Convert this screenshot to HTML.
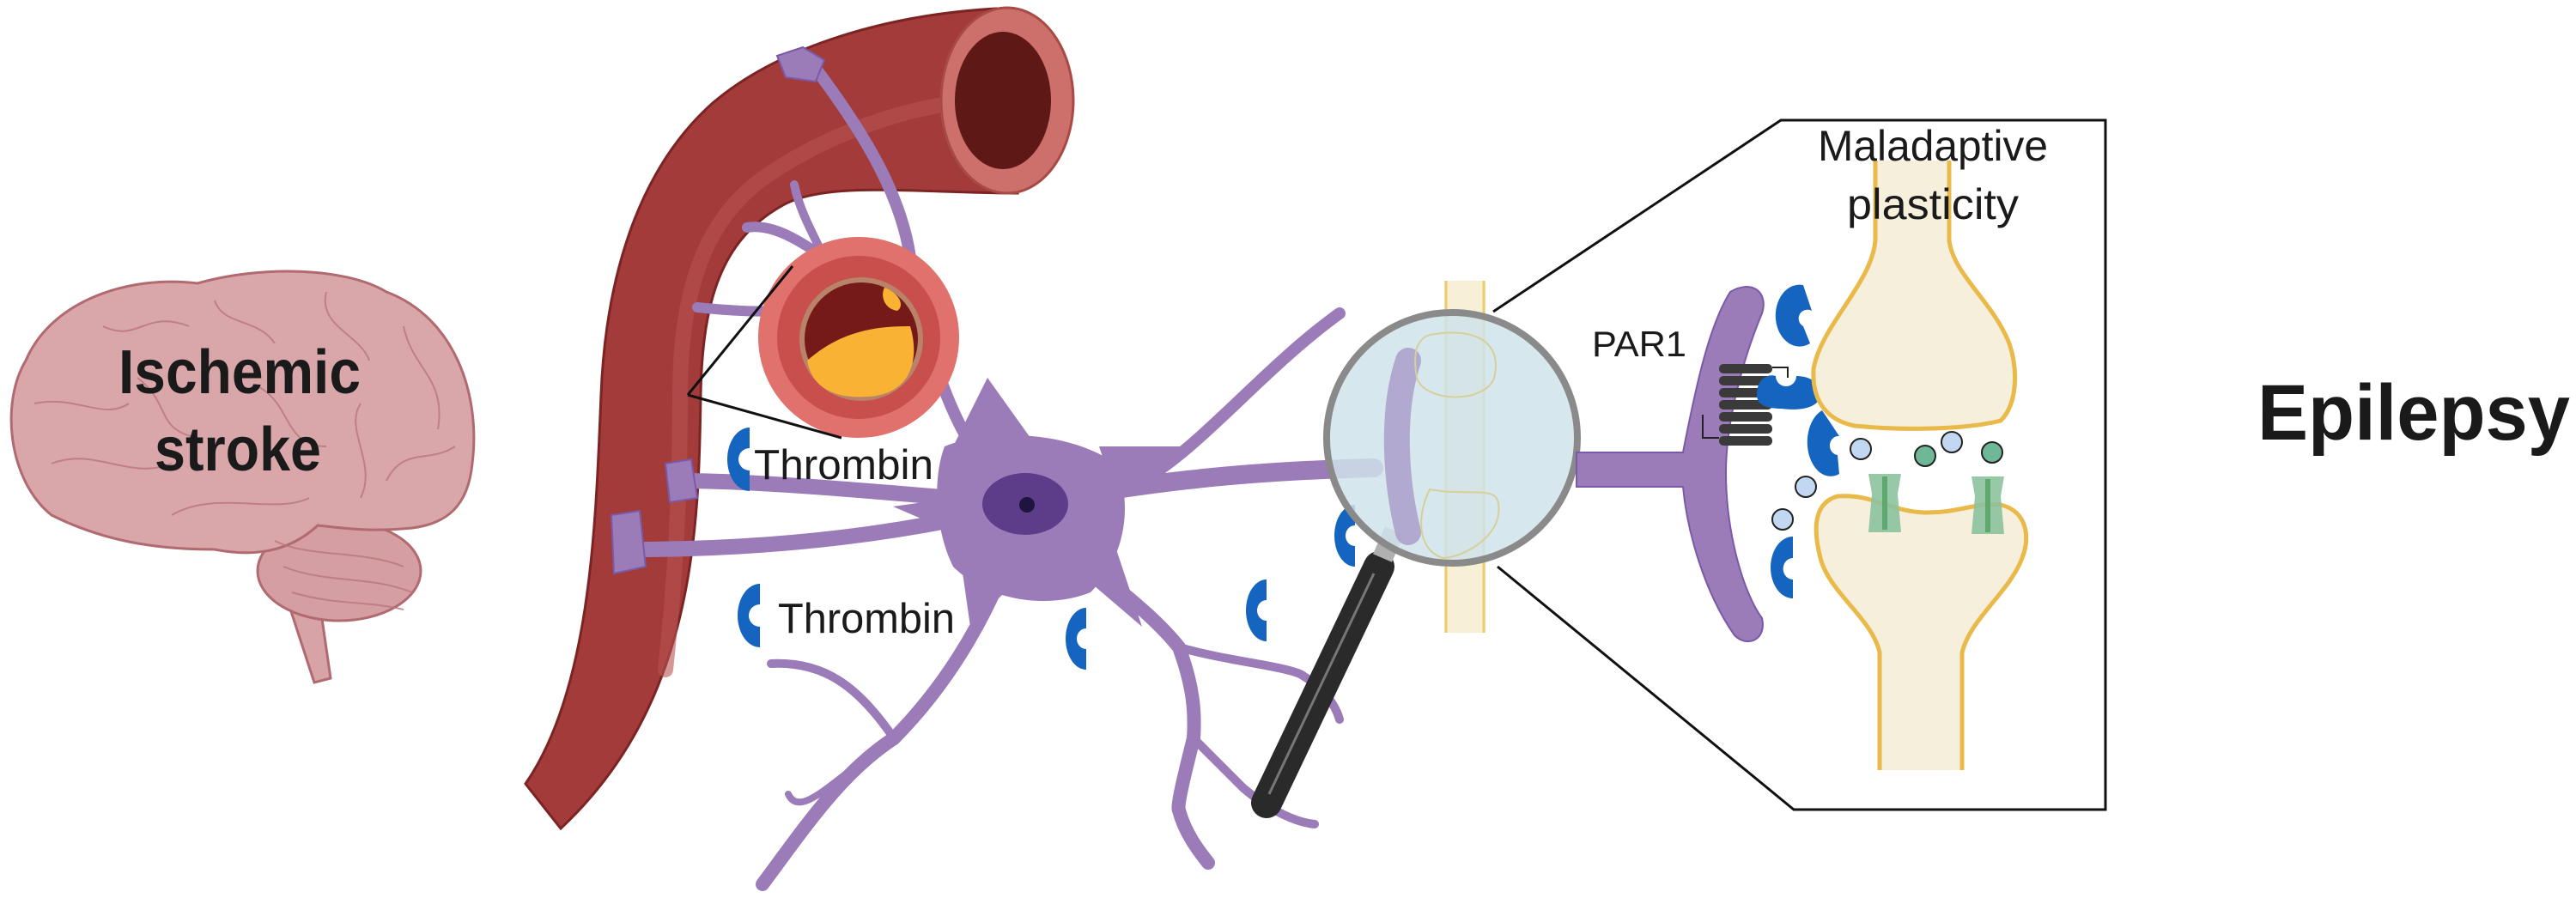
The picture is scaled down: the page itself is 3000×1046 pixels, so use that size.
<!DOCTYPE html>
<html><head><meta charset="utf-8"><style>
html,body{margin:0;padding:0;background:#fff;width:3000px;height:1046px;overflow:hidden}
svg{display:block}
text{font-family:"Liberation Sans",sans-serif}
</style></head><body>
<svg width="3000" height="1046" viewBox="0 0 3000 1046" xmlns="http://www.w3.org/2000/svg">
<!-- BRAIN -->
<g stroke="#b06a70" stroke-width="3">
<path d="M335,700 L372,700 L385,790 L366,795 Z" fill="#d8a3a6"/>
<ellipse cx="395" cy="665" rx="95" ry="58" fill="#d49ea2"/>
<path d="M60,600 C10,560 0,470 30,420 C60,350 150,320 230,330 C300,310 400,310 450,340 C530,370 560,460 550,540 C545,590 520,610 480,615 C430,620 400,615 370,612 C340,640 300,650 250,640 C180,640 120,630 60,600 Z" fill="#d9a7aa"/>
</g>
<g stroke="#b8767c" stroke-width="2" fill="none" opacity="0.8">
<path d="M40,470 C90,460 120,490 150,470 M60,540 C110,520 150,560 200,540 M120,380 C160,400 170,360 220,380 M250,350 C260,380 300,370 320,400 M380,340 C370,380 420,390 430,420 M470,380 C480,430 520,440 510,500 M450,560 C470,520 500,540 530,520 M200,600 C250,570 320,600 360,580 M160,440 C200,470 180,500 230,510 M300,450 C340,470 330,520 380,520 M420,470 C400,500 440,540 420,580 M320,630 C360,650 420,640 470,660 M330,660 C380,680 430,670 480,690 M340,690 C390,705 430,700 470,710"/>
</g>
<text x="138" y="458" font-size="72" font-weight="bold" fill="#1a1a1a" textLength="282" lengthAdjust="spacingAndGlyphs">Ischemic</text>
<text x="180" y="548" font-size="72" font-weight="bold" fill="#1a1a1a" textLength="194" lengthAdjust="spacingAndGlyphs">stroke</text>

<!-- VESSEL -->
<path d="M612,913 C690,800 694,600 700,460 C705,330 740,200 830,120 C900,60 1020,18 1160,10 L1185,225 C1070,225 960,210 910,240 C840,280 818,350 816,460 C814,620 808,820 653,965 Z" fill="#a23b39" stroke="#7c2424" stroke-width="3"/>
<path d="M775,780 C788,660 792,560 792,460 C792,340 820,250 900,200 C960,160 1040,130 1110,120" fill="none" stroke="#b85452" stroke-width="18" opacity="0.6" stroke-linecap="round"/>
<ellipse cx="1173" cy="117" rx="77" ry="108" fill="#cd6f6a" stroke="#a84a46" stroke-width="3"/>
<ellipse cx="1168" cy="117" rx="56" ry="80" fill="#5e1816"/>

<!-- NEURON PROCESSES -->
<g fill="none" stroke="#9b7bb8" stroke-linecap="round">
<path d="M1194,587 C1120,540 1080,420 1060,300 C1050,230 1010,160 950,80" stroke-width="14"/>
<path d="M960,300 C930,280 900,260 870,265" stroke-width="12"/>
<path d="M960,300 C940,260 930,240 925,215" stroke-width="10"/>
<path d="M940,360 C900,365 850,362 812,358" stroke-width="12"/>
<path d="M1194,587 C1100,580 900,560 795,560" stroke-width="18"/>
<path d="M1194,587 C1100,610 950,640 735,640" stroke-width="18"/>
<path d="M1194,587 C1300,570 1400,550 1600,545" stroke-width="22"/>
<path d="M1330,560 C1400,520 1470,430 1560,365" stroke-width="14"/>
<path d="M1194,587 C1170,680 1120,780 1041,860 C980,900 940,960 888,1030" stroke-width="16"/>
<path d="M1041,860 C1000,800 960,770 898,773" stroke-width="10"/>
<path d="M1000,890 C960,920 930,950 918,925" stroke-width="8"/>
<path d="M1194,587 C1260,660 1330,700 1373,754 C1390,800 1392,830 1390,860 C1380,900 1370,940 1373,944 C1380,970 1395,990 1407,1005" stroke-width="16"/>
<path d="M1373,754 C1430,770 1490,775 1514,785 C1540,800 1555,820 1560,838" stroke-width="10"/>
<path d="M1390,860 C1420,890 1440,910 1448,918 C1480,945 1510,958 1531,960" stroke-width="10"/>
</g>
<!-- soma -->
<path d="M1100,520 C1150,500 1240,500 1300,540 C1320,590 1310,650 1270,690 C1220,710 1150,700 1110,660 C1090,620 1085,560 1100,520 Z" fill="#9b7bb8"/>
<g fill="#9b7bb8">
<path d="M1110,520 L1150,440 L1200,510 Z"/>
<path d="M1280,520 L1380,520 L1300,580 Z"/>
<path d="M1110,580 L1040,590 L1110,620 Z"/>
<path d="M1120,660 L1130,730 L1170,690 Z"/>
<path d="M1260,670 L1330,730 L1300,640 Z"/>
</g>
<ellipse cx="1194" cy="587" rx="50" ry="36" fill="#5d3d8a"/>
<circle cx="1196" cy="588" r="9" fill="#1f1340"/>
<!-- endfeet -->
<g fill="#9b7bb8" stroke="#7a5aa8" stroke-width="2">
<path d="M775,540 L805,535 L812,580 L780,585 Z"/>
<path d="M712,600 L745,595 L752,660 L715,668 Z"/>
<path d="M905,65 L935,55 L960,70 L950,95 L915,90 Z"/>
</g>

<!-- PLAQUE -->
<circle cx="1000" cy="393" r="117" fill="#e0716c"/>
<circle cx="1000" cy="393" r="95" fill="#c94f4c"/>
<circle cx="1003" cy="395" r="72" fill="#b9836a"/>
<circle cx="1003" cy="395" r="66" fill="#751a18"/>
<path d="M940,420 C980,385 1020,380 1060,380 C1072,420 1060,460 1010,462 C970,465 945,450 940,420 Z" fill="#f9b233"/>
<path d="M1030,335 C1045,340 1055,355 1045,362 C1030,360 1025,345 1030,335 Z" fill="#f9b233"/>
<g stroke="#111" stroke-width="3"><line x1="801" y1="460" x2="923" y2="310"/><line x1="801" y1="460" x2="980" y2="510"/></g>

<!-- THROMBIN C shapes -->
<g fill="#1565c0">
<path d="M878,498 A26,37 0 1 0 878,572 L878,548 A12,12 0 1 1 878,522 Z" transform="translate(-5,0)"/>
<path d="M885,680 A26,37 0 1 0 885,754 L885,730 A12,12 0 1 1 885,704 Z"/>
<path d="M1265,708 A24,36 0 1 0 1265,780 L1265,756 A11,12 0 1 1 1265,732 Z"/>
<path d="M1475,675 A24,36 0 1 0 1475,747 L1475,723 A11,12 0 1 1 1475,699 Z"/>
<path d="M1578,588 A24,36 0 1 0 1578,660 L1578,636 A11,12 0 1 1 1578,612 Z"/>
</g>
<text x="878" y="558" font-size="49" fill="#1a1a1a" textLength="209" lengthAdjust="spacingAndGlyphs">Thrombin</text>
<text x="906" y="737" font-size="49" fill="#1a1a1a" textLength="206" lengthAdjust="spacingAndGlyphs">Thrombin</text>

<!-- dendrite behind magnifier -->
<rect x="1682" y="327" width="48" height="410" fill="#f7efd6"/>
<line x1="1684" y1="327" x2="1684" y2="737" stroke="#eecb6c" stroke-width="3"/>
<line x1="1728" y1="327" x2="1728" y2="737" stroke="#eecb6c" stroke-width="3"/>
<!-- handle -->
<line x1="1606" y1="660" x2="1475" y2="935" stroke="#2a2a2a" stroke-width="36" stroke-linecap="round"/>
<line x1="1600" y1="668" x2="1478" y2="925" stroke="#777" stroke-width="3"/>
<line x1="1624" y1="618" x2="1610" y2="650" stroke="#b0b0b0" stroke-width="24"/>

<!-- magnifier -->
<circle cx="1691" cy="510" r="146" fill="#cfe3ea" fill-opacity="0.85" stroke="#8a8a8a" stroke-width="8"/>
<path d="M1640,420 C1620,480 1625,560 1640,620" stroke="#a99ac8" stroke-width="30" fill="none" stroke-linecap="round" opacity="0.8"/>
<path d="M1665,390 C1720,380 1750,400 1740,440 C1730,470 1660,470 1650,440 C1645,410 1650,395 1665,390 Z M1665,570 C1720,580 1750,560 1745,600 C1740,630 1700,650 1680,650 C1650,640 1650,600 1665,570 Z" fill="none" stroke="#d6cf9a" stroke-width="2"/>

<!-- zoom box -->
<polyline points="1739,363 2074,140 2452,140 2452,943 2089,943 1744,660" fill="none" stroke="#111" stroke-width="3"/>

<!-- PAR1 spine -->
<path d="M1836,527 L1960,527 C1975,450 1990,380 2015,340 C2040,325 2060,340 2052,365 C2025,430 2010,500 2010,550 C2010,620 2030,690 2052,720 C2058,745 2035,755 2020,740 C1985,690 1965,620 1960,567 L1836,567 Z" fill="#9b7bb8" stroke="#7a5aa8" stroke-width="2"/>
<text x="1854" y="415" font-size="42" fill="#1a1a1a" textLength="110" lengthAdjust="spacingAndGlyphs">PAR1</text>
<g fill="#3a3a3a">
<rect x="2002" y="424" width="62" height="11" rx="5"/><rect x="2002" y="438" width="62" height="11" rx="5"/>
<rect x="2002" y="452" width="62" height="11" rx="5"/><rect x="2002" y="466" width="62" height="11" rx="5"/>
<rect x="2002" y="480" width="62" height="11" rx="5"/><rect x="2002" y="494" width="62" height="11" rx="5"/>
<rect x="2002" y="508" width="62" height="11" rx="5"/>
</g>
<path d="M1983,483 L1983,510 L2002,510 M2064,428 L2082,428 L2082,440" fill="none" stroke="#222" stroke-width="2"/>
<g fill="#1565c0">
<path d="M2100,332 A28,36 0 1 0 2108,400 L2100,380 A10,10 0 1 1 2110,362 Z"/>
<path d="M2046,460 C2046,440 2060,435 2068,438 A12,12 0 0 0 2092,438 C2110,438 2122,448 2120,462 C2115,478 2090,478 2075,476 C2058,476 2046,472 2046,460 Z"/>
<path d="M2122,478 A26,38 0 1 0 2142,552 L2140,530 A10,11 0 1 1 2142,508 Z"/>
<path d="M2088,625 A26,36 0 1 0 2088,697 L2088,675 A10,11 0 1 1 2088,650 Z"/>
</g>
<g stroke="#222" stroke-width="2">
<circle cx="2167" cy="523" r="12" fill="#c2d8f2"/><circle cx="2103" cy="567" r="12" fill="#c2d8f2"/>
<circle cx="2076" cy="605" r="12" fill="#c2d8f2"/><circle cx="2273" cy="515" r="12" fill="#c2d8f2"/>
<circle cx="2242" cy="531" r="12" fill="#6fb897"/><circle cx="2320" cy="527" r="12" fill="#6fb897"/>
</g>
<path d="M2184,187 L2184,280 C2180,330 2120,380 2112,430 C2110,470 2130,490 2160,496 C2220,502 2290,500 2330,490 C2350,470 2350,430 2340,400 C2320,350 2275,320 2270,280 L2270,187" fill="#f6efdc" stroke="#e9b949" stroke-width="5"/>
<path d="M2189,897 L2189,760 C2180,720 2130,690 2120,650 C2110,610 2115,585 2140,578 C2180,575 2200,595 2240,597 C2280,598 2300,585 2330,588 C2360,595 2365,625 2355,650 C2340,690 2295,720 2285,760 L2285,897" fill="#f6efdc" stroke="#e9b949" stroke-width="5"/>
<g fill="#8cc29d" opacity="0.9">
<path d="M2176,552 L2214,552 L2210,575 L2214,620 L2176,620 L2180,575 Z"/>
<path d="M2296,555 L2334,555 L2330,578 L2334,622 L2296,622 L2300,578 Z"/>
</g>
<rect x="2192" y="555" width="6" height="62" fill="#5fa86f"/><rect x="2312" y="558" width="6" height="62" fill="#5fa86f"/>
<text x="2251" y="187" font-size="50" fill="#1a1a1a" text-anchor="middle" textLength="268" lengthAdjust="spacingAndGlyphs">Maladaptive</text>
<text x="2251" y="255" font-size="50" fill="#1a1a1a" text-anchor="middle" textLength="200" lengthAdjust="spacingAndGlyphs">plasticity</text>

<text x="2629" y="512" font-size="92" font-weight="bold" fill="#1a1a1a" textLength="364" lengthAdjust="spacingAndGlyphs">Epilepsy</text>
</svg>
</body></html>
